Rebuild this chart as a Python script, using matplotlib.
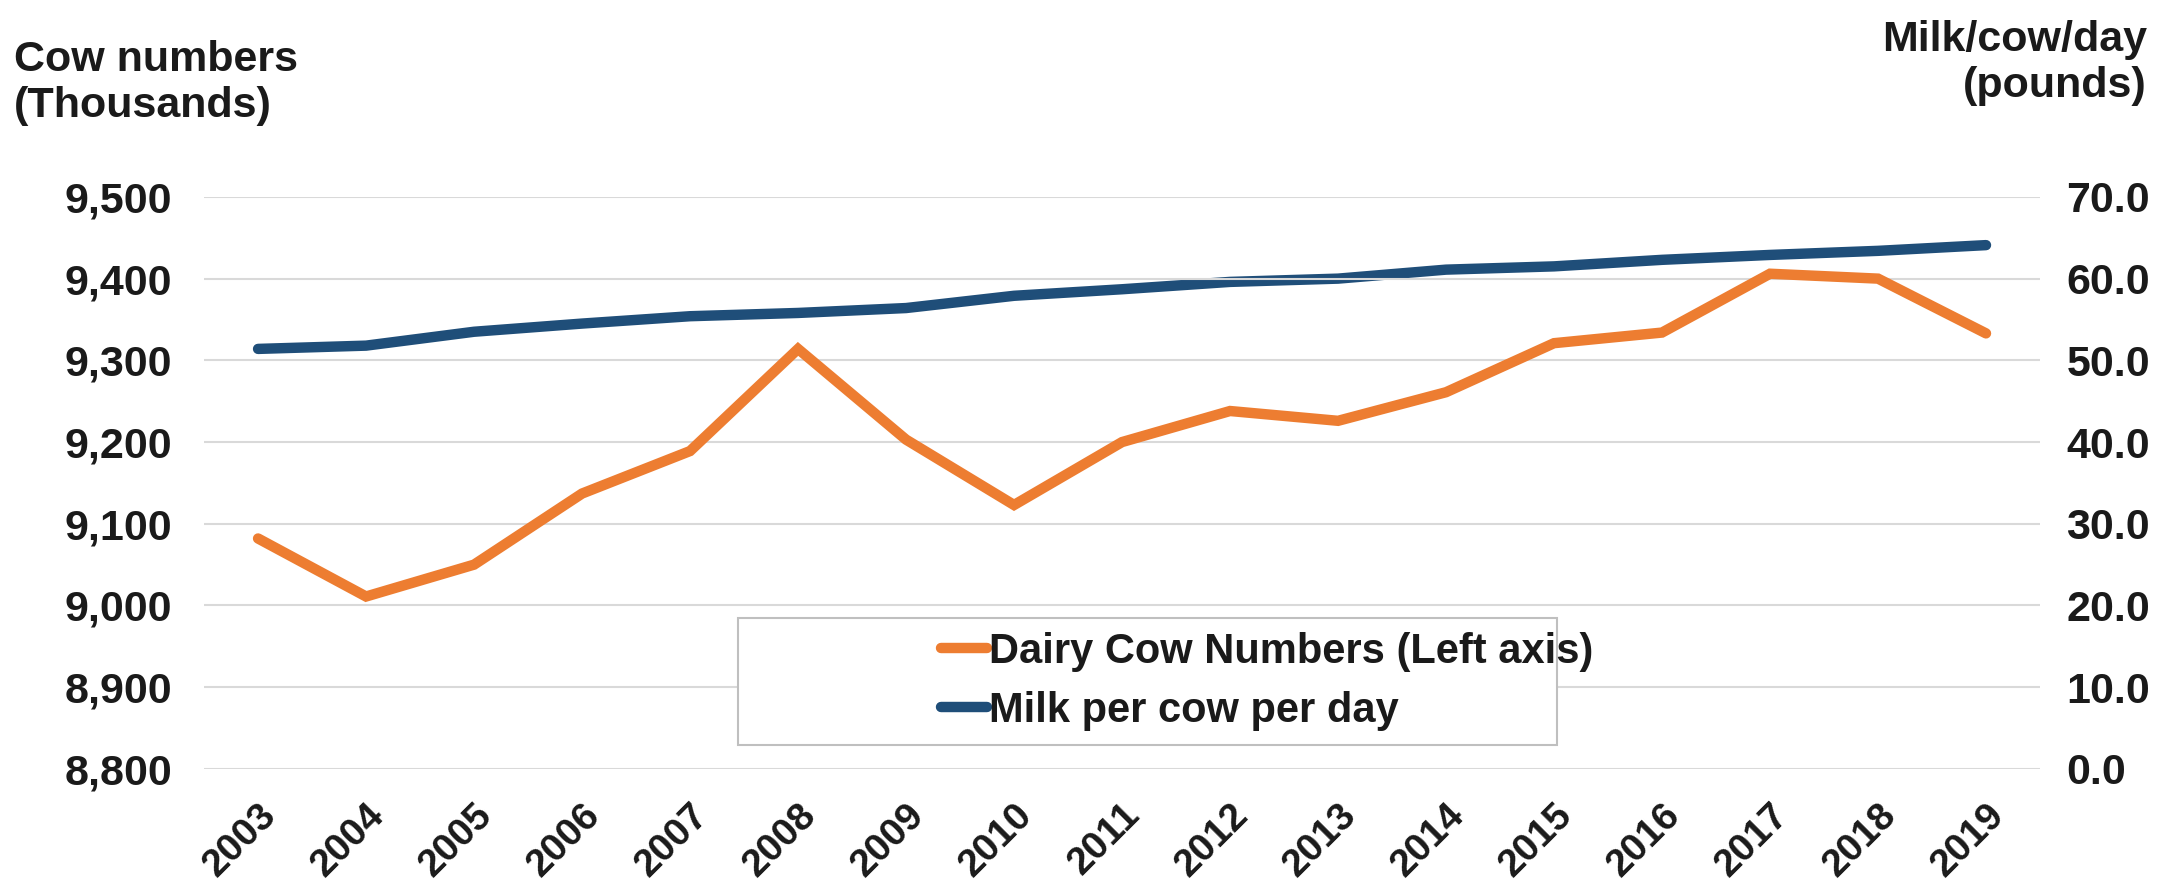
import numpy as np
import matplotlib
matplotlib.use("Agg")
import matplotlib.pyplot as plt
from matplotlib.ticker import FuncFormatter, FixedLocator
from matplotlib.patches import Rectangle

# Data: dairy herd size (thousand head) and milk yield per cow per day (lb)
years = ['2003', '2004', '2005', '2006', '2007', '2008', '2009', '2010', '2011',
         '2012', '2013', '2014', '2015', '2016', '2017', '2018', '2019']
cow_numbers = [9082, 9011, 9050, 9137, 9189, 9314, 9203, 9123, 9200,
               9238, 9226, 9261, 9321, 9334, 9406, 9400, 9333]
milk_per_cow = [51.4, 51.8, 53.5, 54.5, 55.4, 55.8, 56.4, 57.9, 58.7,
                59.6, 60.0, 61.1, 61.5, 62.3, 62.9, 63.4, 64.1]

ORANGE = '#ED7D31'
BLUE = '#1F4E79'
GRID = '#D9D9D9'
TXT = '#1A1A1A'

plt.rcParams['font.family'] = ['Liberation Sans', 'DejaVu Sans']
plt.rcParams['font.weight'] = 'bold'

fig = plt.figure(figsize=(21.64, 8.91), dpi=100)
ax = fig.add_axes([0.0943, 0.137, 0.8484, 0.642])
ax2 = ax.twinx()

x = np.arange(len(years))

l1, = ax.plot(x, cow_numbers, color=ORANGE, lw=7.5, solid_capstyle='round',
              solid_joinstyle='miter', zorder=3)
l2, = ax2.plot(x, milk_per_cow, color=BLUE, lw=7.5, solid_capstyle='round',
               solid_joinstyle='miter', zorder=3)

ax.set_xlim(-0.5, len(years) - 0.5)
ax.set_ylim(8800, 9500)
ax2.set_ylim(0, 70)
ax.yaxis.set_major_locator(FixedLocator(np.arange(8800, 9501, 100)))
ax2.yaxis.set_major_locator(FixedLocator(np.arange(0, 71, 10)))
ax.yaxis.set_major_formatter(FuncFormatter(lambda v, p: f'{v:,.0f}'))
ax2.yaxis.set_major_formatter(FuncFormatter(lambda v, p: f'{v:.1f}'))

ax.grid(axis='y', color=GRID, lw=1.5, zorder=0)
ax.set_axisbelow(True)
for a in (ax, ax2):
    for s in a.spines.values():
        s.set_visible(False)

ax.set_xticks(x)
ax.set_xticklabels(years, rotation=45, ha='right', va='top',
                   rotation_mode='anchor', fontsize=28, fontweight='bold', color=TXT)
ax.tick_params(axis='x', length=0, pad=20)
ax.tick_params(axis='y', length=0, pad=23, labelsize=31, labelcolor=TXT)
ax2.tick_params(axis='y', length=0, pad=19, labelsize=31, labelcolor=TXT)
for lab in ax.get_yticklabels() + ax2.get_yticklabels():
    lab.set_fontweight('bold')

# axis titles
fig.text(0.0065, 0.955, 'Cow numbers\n(Thousands)', ha='left', va='top',
         fontsize=31, fontweight='bold', color=TXT, linespacing=1.2)
fig.text(0.992, 0.978, 'Milk/cow/day\n(pounds)', ha='right', va='top',
         fontsize=31, fontweight='bold', color=TXT, linespacing=1.2)

# legend box with entries placed inside it
ax.add_patch(Rectangle((0.291, 0.042), 0.446, 0.222, transform=ax.transAxes,
                       facecolor='white', edgecolor='#BFBFBF', lw=1.5, zorder=4))
leg = ax.legend([l1, l2], ['Dairy Cow Numbers (Left axis)', 'Milk per cow per day'],
                loc='center left', bbox_to_anchor=(0.39, 0.153),
                bbox_transform=ax.transAxes, frameon=False, fontsize=30,
                handlelength=1.1, handletextpad=0.05, labelspacing=0.45,
                borderpad=0)
for t in leg.get_texts():
    t.set_fontweight('bold')
    t.set_color(TXT)
leg.set_zorder(5)
ax.set_zorder(ax2.get_zorder() + 1)
ax.patch.set_visible(False)

fig.savefig('out.png', dpi=100)
